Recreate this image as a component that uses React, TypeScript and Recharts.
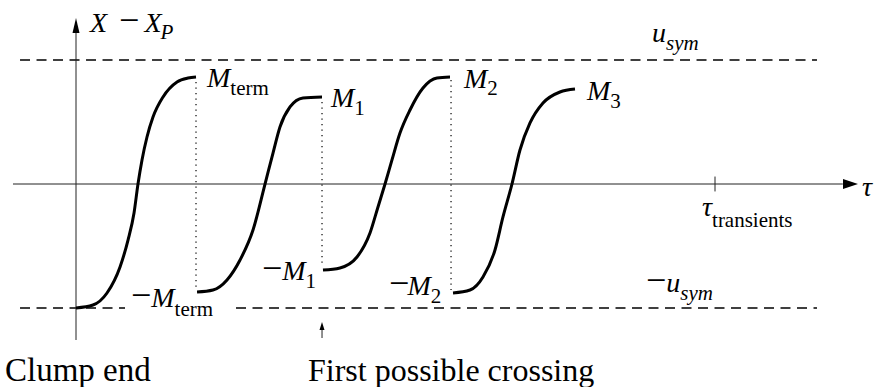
import React from 'react';
import { LineChart, Line, XAxis, YAxis, ReferenceLine, ReferenceDot } from 'recharts';

// units: tau on x (tau_transients = 10), X - X_P on y (u_sym = 1)
const TAU_TRANSIENTS = 10;
const U_SYM = 1;

const curveTerm = [
  { x: 0.0, y: -1.0 }, { x: 0.266, y: -0.976 }, { x: 0.485, y: -0.879 }, { x: 0.689, y: -0.669 },
  { x: 0.814, y: -0.452 }, { x: 0.908, y: -0.234 }, { x: 0.97, y: 0 }, { x: 1.033, y: 0.194 },
  { x: 1.111, y: 0.379 }, { x: 1.205, y: 0.54 }, { x: 1.362, y: 0.702 }, { x: 1.581, y: 0.823 },
  { x: 1.753, y: 0.855 }, { x: 1.878, y: 0.863 },
];
const curveM1 = [
  { x: 1.894, y: -0.871 }, { x: 2.144, y: -0.855 }, { x: 2.363, y: -0.774 }, { x: 2.567, y: -0.613 },
  { x: 2.77, y: -0.371 }, { x: 2.958, y: 0 }, { x: 3.083, y: 0.25 }, { x: 3.192, y: 0.46 },
  { x: 3.349, y: 0.621 }, { x: 3.552, y: 0.694 }, { x: 3.85, y: 0.702 },
];
const curveM2 = [
  { x: 3.865, y: -0.694 }, { x: 4.131, y: -0.677 }, { x: 4.397, y: -0.589 }, { x: 4.601, y: -0.395 },
  { x: 4.726, y: -0.185 }, { x: 4.836, y: 0 }, { x: 4.945, y: 0.194 }, { x: 5.07, y: 0.411 },
  { x: 5.227, y: 0.597 }, { x: 5.43, y: 0.774 }, { x: 5.649, y: 0.855 }, { x: 5.853, y: 0.863 },
];
const curveM3 = [
  { x: 5.9, y: -0.879 }, { x: 6.166, y: -0.855 }, { x: 6.369, y: -0.75 }, { x: 6.557, y: -0.532 },
  { x: 6.682, y: -0.266 }, { x: 6.823, y: 0 }, { x: 6.948, y: 0.274 }, { x: 7.105, y: 0.492 },
  { x: 7.308, y: 0.653 }, { x: 7.574, y: 0.742 }, { x: 7.809, y: 0.766 },
];
const curves = [curveTerm, curveM1, curveM2, curveM3];

// dotted drops from one curve's top to the next curve's start
const drops = [
  { x: 1.878, top: 0.823, bottom: -0.857 },
  { x: 3.85, top: 0.661, bottom: -0.669 },
  { x: 5.869, top: 0.839, bottom: -0.855 },
];

const DASH_START = -0.876;
const DASH_END = 11.596;
const LOW_GAP = [0.767, 2.504]; // the -M_term label sits in the lower dashed line

const X_DOMAIN = [-1.1894, 12.5352];
const Y_DOMAIN = [-1.6371, 1.4839];

type Part = { t: string; i?: boolean; sub?: boolean; size?: number; dx?: number };
type Lab = { x: number; y: number; parts: Part[]; size?: number; subDy?: number };

const MINUS: Part = { t: '\u2212', size: 36 };

const M = (s: string, neg = false, gap = 0): Part[] => [
  ...(neg ? [MINUS] : []),
  { t: 'M', i: true, dx: gap },
  { t: s, sub: true },
];

const labels: Lab[] = [
  {
    x: 0.219, y: 1.226, subDy: 7,
    parts: [{ t: 'X', i: true }, { ...MINUS, dx: 12 }, { t: 'X', i: true, dx: 5 }, { t: 'P', i: true, sub: true, dx: -1 }],
  },
  { x: 2.05, y: 0.782, parts: M('term') },
  { x: 3.991, y: 0.621, parts: M('1') },
  { x: 6.072, y: 0.774, parts: M('2'), subDy: 7 },
  { x: 7.997, y: 0.677, parts: M('3') },
  { x: 9.014, y: 1.145, parts: [{ t: 'u', i: true }, { t: 'sym', i: true, sub: true }] },
  { x: 0.86, y: -0.992, parts: M('term', true), subDy: 9 },
  { x: 2.91, y: -0.774, parts: M('1', true) },
  { x: 4.9, y: -0.895, parts: M('2', true, -2) },
  { x: 8.92, y: -0.871, parts: [MINUS, { t: 'u', i: true }, { t: 'sym', i: true, sub: true }] },
  { x: 12.3, y: -0.097, parts: [{ t: '\u03c4', i: true }] },
  { x: 9.797, y: -0.258, parts: [{ t: '\u03c4', i: true }, { t: 'transients', sub: true }], subDy: 11 },
  { x: -1.111, y: -1.589, parts: [{ t: 'Clump end' }], size: 33 },
  { x: 3.631, y: -1.589, parts: [{ t: 'First possible crossing' }], size: 32 },
];

const FONT = 'Liberation Serif';

const MathText = ({ cx, cy, lab }: { cx: number; cy: number; lab: Lab }) => {
  const size = lab.size ?? 28;
  const subDy = lab.subDy ?? 8;
  return (
    <text x={cx} y={cy} style={{ fontFamily: FONT, fontSize: size }} fill="#000">
      {lab.parts.map((p, k) => (
        <tspan
          key={k}
          y={cy + (p.sub ? subDy : 0)}
          dx={p.dx ?? 0}
          style={{
            fontFamily: FONT,
            fontSize: p.size ?? (p.sub ? 21 : size),
            fontStyle: p.i ? 'italic' : 'normal',
          }}
        >
          {p.t}
        </tspan>
      ))}
    </text>
  );
};

const arrowRight = (p: any) => (
  <path d={`M${p.cx},${p.cy} L${p.cx - 15},${p.cy - 5} L${p.cx - 15},${p.cy + 5} Z`} fill="#000" />
);
const arrowUp = (p: any) => (
  <path d={`M${p.cx},${p.cy} L${p.cx - 3.5},${p.cy + 15} L${p.cx + 3.5},${p.cy + 15} Z`} fill="#000" />
);
const arrowUpSmall = (p: any) => (
  <path d={`M${p.cx},${p.cy} L${p.cx - 2.5},${p.cy + 8} L${p.cx + 2.5},${p.cy + 8} Z`} fill="#000" />
);

export default function App() {
  const dash = { stroke: '#000', strokeWidth: 1.4, strokeDasharray: '10 6.5' };
  const axis = { stroke: '#222', strokeWidth: 1 };
  return (
    <div style={{ position: 'absolute', left: 0, top: 0, background: '#fff', fontFamily: FONT }}>
      <LineChart width={877} height={387} margin={{ top: 0, right: 0, bottom: 0, left: 0 }}>
        <XAxis type="number" dataKey="x" domain={X_DOMAIN} allowDataOverflow hide />
        <YAxis type="number" dataKey="y" domain={Y_DOMAIN} allowDataOverflow hide />

        {/* +/- u_sym */}
        <ReferenceLine segment={[{ x: DASH_START, y: U_SYM }, { x: DASH_END, y: U_SYM }]} {...dash} />
        <ReferenceLine segment={[{ x: DASH_START, y: -U_SYM }, { x: LOW_GAP[0], y: -U_SYM }]} {...dash} />
        <ReferenceLine segment={[{ x: LOW_GAP[1], y: -U_SYM }, { x: DASH_END, y: -U_SYM }]} {...dash} />

        {/* axes */}
        <ReferenceLine segment={[{ x: -0.986, y: 0 }, { x: 12.0, y: 0 }]} {...axis} />
        <ReferenceLine segment={[{ x: 0, y: -1.258 }, { x: 0, y: 1.22 }]} {...axis} />
        <ReferenceDot x={12.238} y={0} r={0} shape={arrowRight} ifOverflow="visible" />
        <ReferenceDot x={0} y={1.339} r={0} shape={arrowUp} ifOverflow="visible" />
        <ReferenceLine segment={[{ x: TAU_TRANSIENTS, y: -0.06 }, { x: TAU_TRANSIENTS, y: 0.06 }]} {...axis} />

        {drops.map((d, k) => (
          <ReferenceLine
            key={`drop-${k}`}
            segment={[{ x: d.x, y: d.top }, { x: d.x, y: d.bottom }]}
            stroke="#000"
            strokeWidth={1.2}
            strokeDasharray="1.3 4.2"
          />
        ))}

        {/* first possible crossing marker */}
        <ReferenceLine segment={[{ x: drops[1].x, y: -1.242 }, { x: drops[1].x, y: -1.16 }]} {...axis} />
        <ReferenceDot x={drops[1].x} y={-1.113} r={0} shape={arrowUpSmall} ifOverflow="visible" />

        {curves.map((c, k) => (
          <Line
            key={`c-${k}`}
            data={c}
            dataKey="y"
            type="monotone"
            stroke="#000"
            strokeWidth={3}
            dot={false}
            activeDot={false}
            isAnimationActive={false}
          />
        ))}

        {labels.map((lab, k) => (
          <ReferenceDot
            key={`lab-${k}`}
            x={lab.x}
            y={lab.y}
            r={0}
            ifOverflow="visible"
            shape={(p: any) => <MathText cx={p.cx} cy={p.cy} lab={lab} />}
          />
        ))}
      </LineChart>
    </div>
  );
}
